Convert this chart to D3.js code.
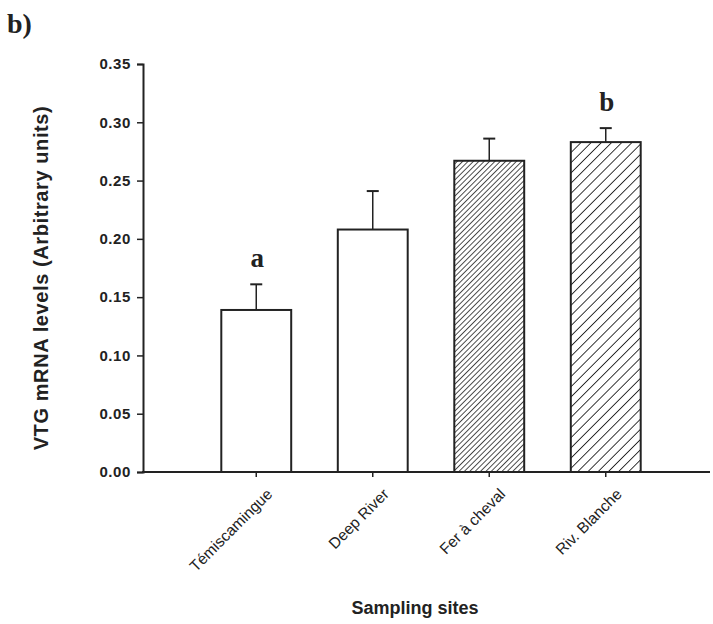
<!DOCTYPE html>
<html><head><meta charset="utf-8">
<script src="https://cdn.jsdelivr.net/npm/d3@7"></script>
<style>body{margin:0;background:#fff}</style>
</head><body>
<svg id="c" width="713" height="624"></svg>
<script>
const categories = ["Témiscamingue", "Deep River", "Fer à cheval", "Riv. Blanche"];
const values = [0.139, 0.208, 0.267, 0.283];
const errors = [0.022, 0.033, 0.019, 0.012];
const fills = ["white", "white", "dense", "sparse"];
const letters = ["a", "", "", "b"];
const yTicks = [0, 0.05, 0.10, 0.15, 0.20, 0.25, 0.30, 0.35];

const svg = d3.select("#c");
const ink = "#222";
const defs = svg.append("defs");
function hatch(id, gap, w) {
  const p = defs.append("pattern").attr("id", id).attr("patternUnits", "userSpaceOnUse")
    .attr("width", gap).attr("height", gap).attr("patternTransform", "rotate(45)");
  p.append("rect").attr("width", gap).attr("height", gap).attr("fill", "white");
  p.append("line").attr("x1", 0).attr("y1", 0).attr("x2", 0).attr("y2", gap)
    .attr("stroke", ink).attr("stroke-width", w);
}
hatch("dense", 3.8, 1.6);
hatch("sparse", 7.2, 1.8);

const y = d3.scaleLinear().domain([0, 0.35]).range([472, 64]);
const x = d3.scaleBand().domain(categories).range([198, 664]).paddingInner(0.4).paddingOuter(0.2);

// bars
const g = svg.append("g");
categories.forEach((c, i) => {
  const bx = x(c), bw = x.bandwidth();
  const cx = bx + bw / 2;
  const top = y(values[i] + errors[i]);
  g.append("line").attr("x1", cx).attr("x2", cx).attr("y1", y(values[i])).attr("y2", top)
    .attr("stroke", ink).attr("stroke-width", 1.5);
  g.append("line").attr("x1", cx - 6).attr("x2", cx + 6).attr("y1", top).attr("y2", top)
    .attr("stroke", ink).attr("stroke-width", 2);
  g.append("rect").attr("x", bx).attr("y", y(values[i])).attr("width", bw)
    .attr("height", y(0) - y(values[i]))
    .attr("fill", fills[i] === "white" ? "white" : `url(#${fills[i]})`)
    .attr("stroke", ink).attr("stroke-width", 2);
  if (letters[i]) {
    g.append("text").attr("x", cx + 1).attr("y", top - 17).attr("text-anchor", "middle")
      .attr("font-family", "Liberation Serif, Times New Roman, serif").attr("font-weight", "bold")
      .attr("font-size", 27).attr("fill", ink).text(letters[i]);
  }
});

// y axis
const yAxis = svg.append("g").attr("transform", "translate(143,0)")
  .call(d3.axisLeft(y).tickValues(yTicks).tickFormat(d3.format(".2f")).tickSizeOuter(0).tickSize(6).tickPadding(6));
yAxis.select(".domain").attr("stroke", ink).attr("stroke-width", 2);
yAxis.selectAll(".tick line").attr("stroke", ink).attr("stroke-width", 1.5);
yAxis.selectAll("text").attr("font-family", "Liberation Sans, Arial, sans-serif")
  .attr("font-size", 15).attr("font-weight", "bold").attr("letter-spacing", 0.6).attr("fill", ink);

// x axis
svg.append("line").attr("x1", 142).attr("x2", 710).attr("y1", y(0)).attr("y2", y(0))
  .attr("stroke", ink).attr("stroke-width", 2);
const xAxis = svg.append("g").attr("transform", `translate(0,${y(0)})`)
  .call(d3.axisBottom(x).tickSize(5).tickSizeOuter(0).tickPadding(6));
xAxis.select(".domain").remove();
xAxis.selectAll(".tick line").attr("stroke", ink).attr("stroke-width", 1.5);
xAxis.selectAll("text").attr("font-family", "Liberation Sans, Arial, sans-serif")
  .attr("font-size", 15.5).attr("fill", ink)
  .attr("text-anchor", "end").attr("dy", "0.3em")
  .attr("transform", "translate(6,12) rotate(-45)");

// titles
svg.append("text").attr("transform", "translate(48,278) rotate(-90)").attr("text-anchor", "middle")
  .attr("font-family", "Liberation Sans, Arial, sans-serif").attr("font-weight", "bold")
  .attr("font-size", 20).attr("letter-spacing", 0.6).attr("fill", ink).text("VTG mRNA levels (Arbitrary units)");
svg.append("text").attr("x", 415).attr("y", 614).attr("text-anchor", "middle")
  .attr("font-family", "Liberation Sans, Arial, sans-serif").attr("font-weight", "bold")
  .attr("font-size", 18).attr("fill", ink).text("Sampling sites");
svg.append("text").attr("x", 7).attr("y", 33)
  .attr("font-family", "Liberation Serif, Times New Roman, serif").attr("font-weight", "bold")
  .attr("font-size", 28).attr("fill", ink).text("b)");
</script>
</body></html>
